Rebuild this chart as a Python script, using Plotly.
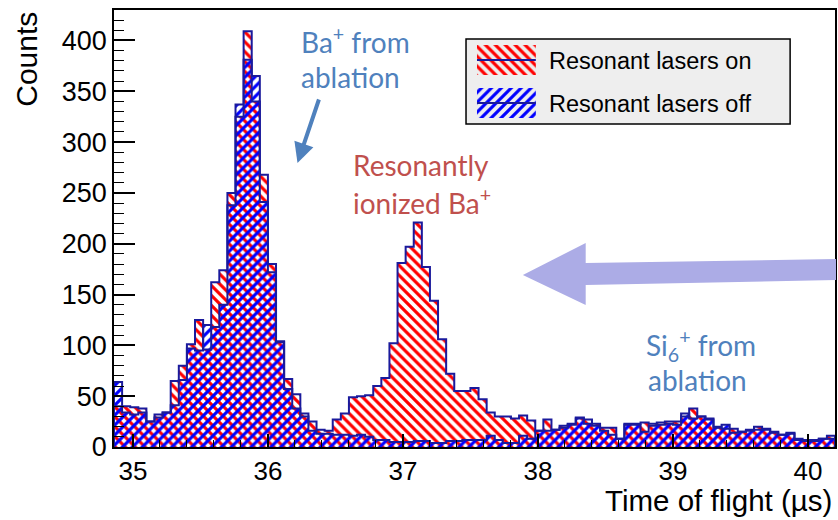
import numpy as np
import plotly.graph_objects as go

# Histogram binning (time of flight, microseconds)
BIN_START = 34.86
BIN_WIDTH = 0.06

# Counts per bin, resonant lasers on
counts_on = [40, 40, 39, 38, 25, 32, 34, 65, 80, 101,
             125, 96, 162, 174, 250, 325, 409, 340, 268, 180,
             104, 67, 52, 33, 25, 17, 16, 27, 33, 49,
             50, 51, 60, 68, 102, 181, 197, 221, 177, 144,
             106, 72, 55, 55, 58, 47, 34, 30, 30, 28,
             31, 26, 16, 27, 17, 21, 23, 29, 27, 23,
             19, 19, 8, 23, 23, 24, 23, 24, 25, 25,
             30, 38, 30, 28, 20, 18, 18, 15, 17, 20,
             18, 15, 12, 14, 8, 7, 7, 8, 11]

# Counts per bin, resonant lasers off
counts_off = [64, 34, 32, 34, 25, 29, 34, 41, 66, 97,
              95, 120, 118, 140, 238, 337, 381, 365, 241, 172,
              103, 57, 38, 30, 16, 13, 13, 12, 12, 11,
              12, 10, 7, 7, 5, 5, 5, 6, 6, 4,
              4, 6, 6, 7, 7, 7, 11, 7, 4, 4,
              11, 8, 16, 16, 17, 19, 22, 28, 23, 21,
              16, 12, 8, 22, 22, 15, 21, 22, 23, 22,
              33, 28, 30, 27, 19, 22, 14, 15, 16, 17,
              17, 14, 12, 13, 7, 6, 6, 8, 8]

x_ticks = [35, 36, 37, 38, 39, 40]
y_ticks = [0, 50, 100, 150, 200, 250, 300, 350, 400]

series_names = ["Resonant lasers on", "Resonant lasers off"]

# Figure geometry
W, H = 838, 520
ML, MR, MT, MB = 114, 1, 10, 73
PW = W - ML - MR
PH = H - MT - MB


def paper_x(px):
    return (px - ML) / PW


def paper_y(py):
    return (H - MB - py) / PH


RED = "#ff0000"
BLUE = "#0000ff"
OUTLINE = "#1a1a9c"
TXT_BLUE = "#4f81bd"
TXT_RED = "#c0504d"
FONT = "Liberation Sans, Arial, sans-serif"
NOTE_FONT = "Lato, Open Sans, sans-serif"

edges = BIN_START + BIN_WIDTH * np.arange(len(counts_on) + 1)
centers = edges[:-1] + BIN_WIDTH / 2


def hatch(shape, color):
    return dict(shape=shape, fgcolor=color, bgcolor="rgba(0,0,0,0)",
                size=7, solidity=0.45, fillmode="replace")


def step_outline(counts):
    xs = [edges[0]] + list(edges[:-1]) + [edges[-1], edges[-1]]
    ys = [0] + list(counts) + [counts[-1], 0]
    return xs, ys


fig = go.Figure()

# Hatched histogram bodies
fig.add_trace(go.Bar(x=centers, y=counts_on, width=BIN_WIDTH,
                     marker=dict(color=RED, line=dict(width=0),
                                 pattern=hatch("\\", RED)),
                     showlegend=False, hoverinfo="skip"))
fig.add_trace(go.Bar(x=centers, y=counts_off, width=BIN_WIDTH,
                     marker=dict(color=BLUE, line=dict(width=0),
                                 pattern=hatch("/", BLUE)),
                     showlegend=False, hoverinfo="skip"))

# Step outlines
for counts in (counts_on, counts_off):
    xs, ys = step_outline(counts)
    fig.add_trace(go.Scatter(x=xs, y=ys, mode="lines",
                             line=dict(color=OUTLINE, width=2, shape="hv"),
                             showlegend=False, hoverinfo="skip"))

# Legend keys, drawn on a pixel-space overlay axis
legend_rows = [(series_names[0], "\\", RED, 45, 75),
               (series_names[1], "/", BLUE, 88, 118)]
for name, shp, col, top, bot in legend_rows:
    fig.add_trace(go.Scatter(
        x=[478, 537, 537, 478, 478], y=[top, top, bot, bot, top],
        xaxis="x2", yaxis="y2", mode="lines", fill="toself",
        fillcolor="rgba(0,0,0,0)", line=dict(width=0),
        fillpattern=dict(shape=shp, fgcolor=col, bgcolor="rgba(0,0,0,0)",
                         size=7, solidity=0.45, fillmode="replace"),
        showlegend=False, hoverinfo="skip"))
    mid = (top + bot) / 2
    fig.add_trace(go.Scatter(x=[478, 537], y=[mid, mid], xaxis="x2", yaxis="y2",
                             mode="lines", line=dict(color=OUTLINE, width=2),
                             showlegend=False, hoverinfo="skip"))

shapes = [
    # legend frame
    dict(type="rect", xref="x2", yref="y2", x0=467, x1=792, y0=39, y1=124,
         fillcolor="#eeeeee", line=dict(color="black", width=1.5), layer="below"),
    # large pointer arrow
    dict(type="path", xref="paper", yref="paper",
         path="M {} {} L {} {} L {} {} L {} {} L {} {} L {} {} L {} {} Z".format(
             paper_x(524), paper_y(275), paper_x(587), paper_y(243),
             paper_x(587), paper_y(263), paper_x(838), paper_y(259),
             paper_x(838), paper_y(280), paper_x(587), paper_y(285),
             paper_x(587), paper_y(305)),
         fillcolor="#acace6", line=dict(width=0), layer="above"),
]

annotations = []
for (name, _, _, top, bot) in legend_rows:
    annotations.append(dict(xref="x2", yref="y2", x=548, y=(top + bot) / 2 + 1,
                            text=name, showarrow=False, xanchor="left",
                            yanchor="middle",
                            font=dict(family=FONT, size=23.5, color="black")))


def note(text, x, y, color):
    annotations.append(dict(xref="x2", yref="y2", x=x, y=y, text=text,
                            showarrow=False, xanchor="left", yanchor="middle",
                            font=dict(family=NOTE_FONT, size=28, color=color)))


note("Ba<sup>+</sup> from", 300, 40, TXT_BLUE)
note("ablation", 300, 77, TXT_BLUE)
note("Resonantly", 352, 165, TXT_RED)
note("ionized Ba<sup>+</sup>", 352, 201, TXT_RED)
note("Si<sub>6</sub><sup>+</sup> from", 645, 345, TXT_BLUE)
note("ablation", 647, 380, TXT_BLUE)

# thin arrow toward the ablation peak
annotations.append(dict(xref="x2", yref="y2", axref="x2", ayref="y2",
                        x=298, y=163, ax=320, ay=98, text="", showarrow=True,
                        arrowhead=2, arrowsize=1, arrowwidth=4,
                        arrowcolor=TXT_BLUE))

# axis titles
annotations.append(dict(xref="paper", yref="paper", x=paper_x(836), y=paper_y(500),
                        text="Time of flight (µs)", showarrow=False,
                        xanchor="right", yanchor="middle",
                        font=dict(family=FONT, size=29.5, color="black")))
annotations.append(dict(xref="paper", yref="paper", x=paper_x(26), y=1.0,
                        text="Counts", showarrow=False, textangle=-90,
                        xanchor="center", yanchor="top",
                        font=dict(family=FONT, size=30, color="black")))

fig.update_layout(
    width=W, height=H,
    margin=dict(l=ML, r=MR, t=MT, b=MB),
    paper_bgcolor="white", plot_bgcolor="white",
    barmode="overlay", bargap=0,
    showlegend=False,
    shapes=shapes, annotations=annotations,
    xaxis=dict(range=[BIN_START, edges[-1]], tickvals=x_ticks,
               ticks="inside", ticklen=13, tickwidth=1.5, tickcolor="black",
               minor=dict(dtick=0.2, ticklen=7, ticks="inside", tickwidth=1.2,
                          tickcolor="black"),
               showline=True, linecolor="black", linewidth=1.5, mirror=True,
               showgrid=False, zeroline=False,
               tickfont=dict(family=FONT, size=26, color="black")),
    yaxis=dict(range=[0, 430], tickvals=y_ticks,
               ticks="inside", ticklen=21, tickwidth=1.5, tickcolor="black",
               minor=dict(dtick=10, ticklen=10, ticks="inside", tickwidth=1.2,
                          tickcolor="black"),
               showline=True, linecolor="black", linewidth=1.5, mirror=True,
               showgrid=False, zeroline=False,
               tickfont=dict(family=FONT, size=27, color="black")),
    xaxis2=dict(overlaying="x", range=[ML, W - MR], visible=False, fixedrange=True),
    yaxis2=dict(overlaying="y", range=[H - MB, MT], visible=False, fixedrange=True),
)

fig.write_html("out.html")
